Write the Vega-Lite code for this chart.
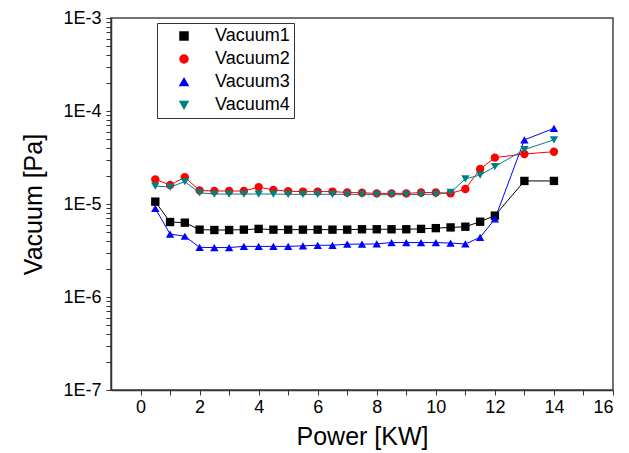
{
  "$schema": "https://vega.github.io/schema/vega-lite/v6.json",
  "width": 502,
  "height": 372,
  "autosize": {"type": "none"},
  "padding": {"left": 111, "top": 18, "right": 16, "bottom": 63},
  "background": "white",
  "datasets": {
    "pts": [
      {"x":0.5,"v":1.06e-5,"s":"Vacuum1"},{"x":1,"v":6.4e-6,"s":"Vacuum1"},{"x":1.5,"v":6.3e-6,"s":"Vacuum1"},{"x":2,"v":5.3e-6,"s":"Vacuum1"},{"x":2.5,"v":5.25e-6,"s":"Vacuum1"},{"x":3,"v":5.25e-6,"s":"Vacuum1"},{"x":3.5,"v":5.3e-6,"s":"Vacuum1"},{"x":4,"v":5.4e-6,"s":"Vacuum1"},{"x":4.5,"v":5.3e-6,"s":"Vacuum1"},{"x":5,"v":5.3e-6,"s":"Vacuum1"},{"x":5.5,"v":5.3e-6,"s":"Vacuum1"},{"x":6,"v":5.3e-6,"s":"Vacuum1"},{"x":6.5,"v":5.3e-6,"s":"Vacuum1"},{"x":7,"v":5.3e-6,"s":"Vacuum1"},{"x":7.5,"v":5.35e-6,"s":"Vacuum1"},{"x":8,"v":5.35e-6,"s":"Vacuum1"},{"x":8.5,"v":5.35e-6,"s":"Vacuum1"},{"x":9,"v":5.35e-6,"s":"Vacuum1"},{"x":9.5,"v":5.4e-6,"s":"Vacuum1"},{"x":10,"v":5.5e-6,"s":"Vacuum1"},{"x":10.5,"v":5.6e-6,"s":"Vacuum1"},{"x":11,"v":5.7e-6,"s":"Vacuum1"},{"x":11.5,"v":6.45e-6,"s":"Vacuum1"},{"x":12,"v":7.5e-6,"s":"Vacuum1"},{"x":13,"v":1.77e-5,"s":"Vacuum1"},{"x":14,"v":1.77e-5,"s":"Vacuum1"},
      {"x":0.5,"v":1.84e-5,"s":"Vacuum2"},{"x":1,"v":1.6e-5,"s":"Vacuum2"},{"x":1.5,"v":1.94e-5,"s":"Vacuum2"},{"x":2,"v":1.4e-5,"s":"Vacuum2"},{"x":2.5,"v":1.38e-5,"s":"Vacuum2"},{"x":3,"v":1.38e-5,"s":"Vacuum2"},{"x":3.5,"v":1.38e-5,"s":"Vacuum2"},{"x":4,"v":1.52e-5,"s":"Vacuum2"},{"x":4.5,"v":1.42e-5,"s":"Vacuum2"},{"x":5,"v":1.37e-5,"s":"Vacuum2"},{"x":5.5,"v":1.36e-5,"s":"Vacuum2"},{"x":6,"v":1.36e-5,"s":"Vacuum2"},{"x":6.5,"v":1.36e-5,"s":"Vacuum2"},{"x":7,"v":1.33e-5,"s":"Vacuum2"},{"x":7.5,"v":1.32e-5,"s":"Vacuum2"},{"x":8,"v":1.3e-5,"s":"Vacuum2"},{"x":8.5,"v":1.3e-5,"s":"Vacuum2"},{"x":9,"v":1.3e-5,"s":"Vacuum2"},{"x":9.5,"v":1.33e-5,"s":"Vacuum2"},{"x":10,"v":1.33e-5,"s":"Vacuum2"},{"x":10.5,"v":1.3e-5,"s":"Vacuum2"},{"x":11,"v":1.45e-5,"s":"Vacuum2"},{"x":11.5,"v":2.38e-5,"s":"Vacuum2"},{"x":12,"v":3.15e-5,"s":"Vacuum2"},{"x":13,"v":3.45e-5,"s":"Vacuum2"},{"x":14,"v":3.65e-5,"s":"Vacuum2"},
      {"x":0.5,"v":9.0e-6,"s":"Vacuum3"},{"x":1,"v":4.75e-6,"s":"Vacuum3"},{"x":1.5,"v":4.5e-6,"s":"Vacuum3"},{"x":2,"v":3.42e-6,"s":"Vacuum3"},{"x":2.5,"v":3.4e-6,"s":"Vacuum3"},{"x":3,"v":3.4e-6,"s":"Vacuum3"},{"x":3.5,"v":3.5e-6,"s":"Vacuum3"},{"x":4,"v":3.5e-6,"s":"Vacuum3"},{"x":4.5,"v":3.5e-6,"s":"Vacuum3"},{"x":5,"v":3.5e-6,"s":"Vacuum3"},{"x":5.5,"v":3.55e-6,"s":"Vacuum3"},{"x":6,"v":3.6e-6,"s":"Vacuum3"},{"x":6.5,"v":3.6e-6,"s":"Vacuum3"},{"x":7,"v":3.7e-6,"s":"Vacuum3"},{"x":7.5,"v":3.7e-6,"s":"Vacuum3"},{"x":8,"v":3.72e-6,"s":"Vacuum3"},{"x":8.5,"v":3.85e-6,"s":"Vacuum3"},{"x":9,"v":3.85e-6,"s":"Vacuum3"},{"x":9.5,"v":3.85e-6,"s":"Vacuum3"},{"x":10,"v":3.85e-6,"s":"Vacuum3"},{"x":10.5,"v":3.8e-6,"s":"Vacuum3"},{"x":11,"v":3.72e-6,"s":"Vacuum3"},{"x":11.5,"v":4.38e-6,"s":"Vacuum3"},{"x":12,"v":6.9e-6,"s":"Vacuum3"},{"x":13,"v":4.9e-5,"s":"Vacuum3"},{"x":14,"v":6.5e-5,"s":"Vacuum3"},
      {"x":0.5,"v":1.56e-5,"s":"Vacuum4"},{"x":1,"v":1.52e-5,"s":"Vacuum4"},{"x":1.5,"v":1.74e-5,"s":"Vacuum4"},{"x":2,"v":1.32e-5,"s":"Vacuum4"},{"x":2.5,"v":1.28e-5,"s":"Vacuum4"},{"x":3,"v":1.28e-5,"s":"Vacuum4"},{"x":3.5,"v":1.28e-5,"s":"Vacuum4"},{"x":4,"v":1.28e-5,"s":"Vacuum4"},{"x":4.5,"v":1.28e-5,"s":"Vacuum4"},{"x":5,"v":1.27e-5,"s":"Vacuum4"},{"x":5.5,"v":1.27e-5,"s":"Vacuum4"},{"x":6,"v":1.27e-5,"s":"Vacuum4"},{"x":6.5,"v":1.27e-5,"s":"Vacuum4"},{"x":7,"v":1.27e-5,"s":"Vacuum4"},{"x":7.5,"v":1.27e-5,"s":"Vacuum4"},{"x":8,"v":1.26e-5,"s":"Vacuum4"},{"x":8.5,"v":1.26e-5,"s":"Vacuum4"},{"x":9,"v":1.26e-5,"s":"Vacuum4"},{"x":9.5,"v":1.27e-5,"s":"Vacuum4"},{"x":10,"v":1.27e-5,"s":"Vacuum4"},{"x":10.5,"v":1.33e-5,"s":"Vacuum4"},{"x":11,"v":1.86e-5,"s":"Vacuum4"},{"x":11.5,"v":2.05e-5,"s":"Vacuum4"},{"x":12,"v":2.52e-5,"s":"Vacuum4"},{"x":13,"v":3.85e-5,"s":"Vacuum4"},{"x":14,"v":4.9e-5,"s":"Vacuum4"}
    ]
  },
  "data": {"name": "pts"},
  "encoding": {
    "x": {
      "field": "x", "type": "quantitative",
      "scale": {"domain": [-1, 16], "nice": false, "zero": false},
      "axis": {"title": "Power [KW]", "values": [0,1,2,3,4,5,6,7,8,9,10,11,12,13,14,15,16],
        "labelExpr": "datum.value % 2 == 0 ? datum.label : ''",
        "tickSize": 5, "labelPadding": 3, "titlePadding": 8, "grid": false}
    },
    "y": {
      "field": "v", "type": "quantitative",
      "scale": {"type": "log", "domain": [1e-7, 1e-3], "nice": false},
      "axis": {"title": "Vacuum [Pa]",
        "values": [1e-7,2e-7,3e-7,4e-7,5e-7,6e-7,7e-7,8e-7,9e-7,1e-6,2e-6,3e-6,4e-6,5e-6,6e-6,7e-6,8e-6,9e-6,1e-5,2e-5,3e-5,4e-5,5e-5,6e-5,7e-5,8e-5,9e-5,1e-4,2e-4,3e-4,4e-4,5e-4,6e-4,7e-4,8e-4,9e-4,1e-3],
        "labelExpr": "abs(log(datum.value)/LN10 - round(log(datum.value)/LN10)) < 0.001 ? '1E' + round(log(datum.value)/LN10) : ''",
        "tickSize": 5, "labelPadding": 5, "titlePadding": 16, "grid": false}
    }
  },
  "layer": [
    {
      "mark": {"type": "line", "strokeWidth": 1, "opacity": 1},
      "encoding": {
        "color": {"field": "s", "type": "nominal", "title": null,
          "scale": {"domain": ["Vacuum1","Vacuum2","Vacuum3","Vacuum4"], "range": ["#000000","#FF0000","#0000FF","#008080"]}}
      }
    },
    {
      "mark": {"type": "point", "filled": true, "opacity": 1, "size": 70},
      "encoding": {
        "color": {"field": "s", "type": "nominal", "title": null,
          "scale": {"domain": ["Vacuum1","Vacuum2","Vacuum3","Vacuum4"], "range": ["#000000","#FF0000","#0000FF","#008080"]},
          "legend": {"orient": "none", "legendX": 46, "legendY": 5, "labelFontSize": 18, "labelFont": "Liberation Sans", "labelColor": "#000000", "symbolSize": 64, "symbolOpacity": 1, "symbolOffset": 14, "labelOffset": 22, "strokeColor": "#333333", "fillColor": "#FFFFFF", "padding": 4, "rowPadding": 5}},
        "shape": {"field": "s", "type": "nominal", "title": null,
          "scale": {"domain": ["Vacuum1","Vacuum2","Vacuum3","Vacuum4"], "range": ["square","circle","triangle-up","triangle-down"]},
          "legend": {"orient": "none", "legendX": 46, "legendY": 5, "labelFontSize": 18, "labelFont": "Liberation Sans", "labelColor": "#000000", "symbolSize": 64, "symbolOpacity": 1, "symbolOffset": 14, "labelOffset": 22, "strokeColor": "#333333", "fillColor": "#FFFFFF", "padding": 4, "rowPadding": 5}}
      }
    }
  ],
  "config": {
    "view": {"stroke": "#444444", "strokeWidth": 1.5},
    "axis": {
      "labelFont": "Liberation Sans", "labelFontSize": 18, "labelColor": "#000000",
      "titleFont": "Liberation Sans", "titleFontSize": 25, "titleFontWeight": "normal", "titleColor": "#000000",
      "domainColor": "#333333", "domainWidth": 1.5, "tickColor": "#333333", "tickWidth": 1
    }
  }
}
